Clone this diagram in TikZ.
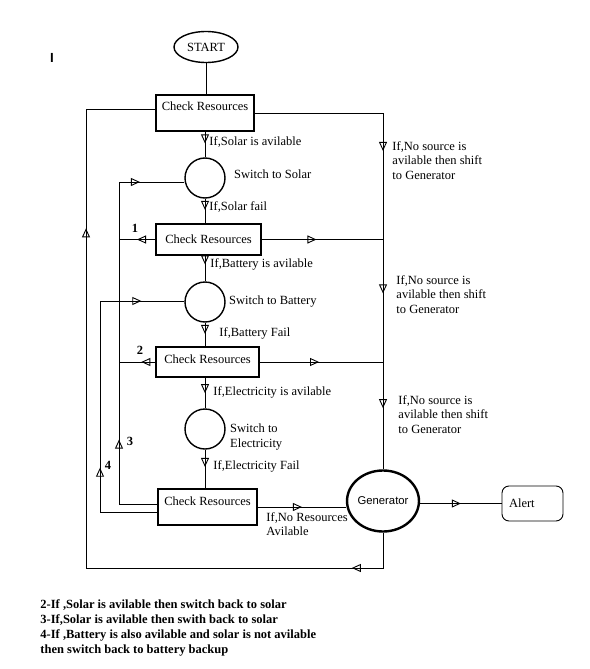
\documentclass[tikz,border=0pt]{standalone}
\usepackage{fontspec}
\setmainfont{Liberation Serif}
\setsansfont{Liberation Sans}
\usetikzlibrary{arrows.meta,shapes.geometric,decorations.markings,math}

\begin{document}
\begin{tikzpicture}[x=1pt,y=-1pt,line width=0.9pt,font=\fontsize{12.5}{14.5}\selectfont]

\tikzmath{
	\D = 40pt;
}

\tikzset{check box/.style={
    draw, line width=2pt,
    minimum width=#1, minimum height=36pt,
    text height=9pt, text depth=7pt,
    inner sep=2pt
  },
  check box/.default=100pt,
  source circle/.style={draw, circle, line width=1.4pt, minimum size=\D, inner sep=0pt},
  flow/.style={postaction=decorate,
    decoration={markings,
      mark=at position #1 with {\arrow{Triangle[open,length=9pt,width=8pt]}}}},
  flow/.default=0.5,
  cond/.style={anchor=west, inner sep=1pt, xshift=3pt},
  note/.style={anchor=north west, align=left, inner sep=0pt},
  num/.style={font=\fontsize{12.5}{14.5}\selectfont\bfseries, inner sep=0pt}
}

\useasboundingbox (0,0) rectangle (589,669);

% nodes
\node[font=\fontsize{12}{14}\selectfont\sffamily\bfseries, inner sep=0pt, scale=1.1] (cursor) at (52,58) {I};
\node[draw, ellipse, line width=1.4pt, minimum width=64pt, minimum height=31pt, inner sep=0pt] (start) at (206,47) {START};
\node[check box=98pt, text depth=15pt] (chk1) at (205,113) {Check Resources};
\node[source circle] (solar) at (205,178) {};
\node[check box=105pt, minimum height=31pt, text depth=1pt] (chk2) at (208.5,239.5) {Check Resources};
\node[source circle] (battery) at (205,302) {};
\node[check box=103pt, minimum height=30pt] (chk3) at (207.5,362) {Check Resources};
\node[source circle] (elec) at (205,429) {};
\node[check box=99pt, text depth=13pt] (chk4) at (207.5,507) {Check Resources};
\node[draw, ellipse, line width=2.4pt, minimum width=68pt, minimum height=61pt, inner sep=0pt,
      font=\fontsize{11.3}{13}\selectfont\sffamily] (gen) at (383,501) {Generator};
\node[draw, rounded corners=7pt, minimum height=35pt, text width=47pt, inner xsep=7pt] (alert) at (532.5,503.5) {Alert};

\node[cond, xshift=4pt, yshift=4pt] (solar text) at (solar.east) {Switch to Solar};
\node[cond, xshift=-1pt] (battery text) at (battery.east) {Switch to Battery};
\node[cond, align=left, yshift=-8pt] (elec text) at (elec.east) {Switch to\\Electricity};

% main column
\draw (start) -- (start |- chk1.north);
\draw[flow=0.45] (solar |- chk1.south) -- node[cond, pos=0.41] {If,Solar is avilable} (solar);
\draw[flow=0.46] (solar) -- node[cond, pos=0.35] {If,Solar fail} (solar |- chk2.north);
\draw[flow=0.33] (battery |- chk2.south) -- node[cond, pos=0.33, xshift=1pt] {If,Battery is avilable} (battery);
\draw[flow=0.48] (battery) -- node[cond, pos=0.48, xshift=10pt] {If,Battery Fail} (battery |- chk3.north);
\draw[flow=0.5] (elec |- chk3.south) -- node[cond, pos=0.47, xshift=4pt] {If,Electricity is avilable} (elec);
\draw[flow=0.45] (elec) -- node[cond, pos=0.43, xshift=4pt] {If,Electricity Fail} (elec |- chk4.north);

% right line to generator
\draw (chk1.east) -- (chk1.east -| gen.north) coordinate (r1);
\draw[flow=0.3] (r1) -- (chk2.east -| gen.north) coordinate (r2);
\draw[flow=0.44] (r2) -- (chk3.east -| gen.north) coordinate (r3);
\draw[flow=0.43] (r3) -- (gen.north);
\draw[flow=0.45] (chk2.east) -- (r2);
\draw[flow=0.48] (chk3.east) -- (r3);
\draw[flow=0.5] (chk4.east) -- (chk4.east -| gen.west);
\draw[flow=0.5] (gen.east |- alert.west) -- (alert.west);

\node[note] (shift1) at (392,141) {If,No source is\\avilable then shift\\to Generator};
\node[note] (shift2) at (396,275) {If,No source is\\avilable then shift\\to Generator};
\node[note] (shift3) at (398,395) {If,No source is\\avilable then shift\\to Generator};
\node[note] (nores) at (266,512) {If,No Resources\\Avilable};

% loop from generator back to the top
\coordinate (lb) at (86,568);
\coordinate (lt) at (86,109);
\draw[flow=0.2] (gen.south) |- (lb);
\draw[flow=0.74] (lb) -- (lt);
\draw (lt) -- (lt -| chk1.west);

% back to solar
\coordinate (sb) at (119,504);
\coordinate (st) at (119,182);
\draw (sb -| chk4.west) -- (sb);
\draw[flow=0.2] (sb) -- (st);
\draw[flow=0.32] (st) -- (st -| solar.west);
\draw[flow=0.5] (chk2.west) -- (chk2.west -| sb);
\draw[flow=0.38] (chk3.west) -- (chk3.west -| sb);

% back to battery
\coordinate (bb) at (100,512);
\coordinate (bt) at (100,301);
\draw (bb -| chk4.west) -- (bb);
\draw[flow=0.21] (bb) -- (bt);
\draw[flow=0.49] (bt) -- (bt -| battery.west);

\node[num] (n1) at (135,228) {1};
\node[num] (n2) at (140,350) {2};
\node[num] (n3) at (130,441) {3};
\node[num] (n4) at (108,465) {4};

% notes
\node[note, font=\fontsize{12.5}{15}\selectfont\bfseries] (legend) at (40,599)
  {2-If ,Solar is avilable then switch back to solar\\
   3-If,Solar is avilable then swith back to solar\\
   4-If ,Battery is also avilable and solar is not avilable\\
   then switch back to battery backup};

\end{tikzpicture}
\end{document}
